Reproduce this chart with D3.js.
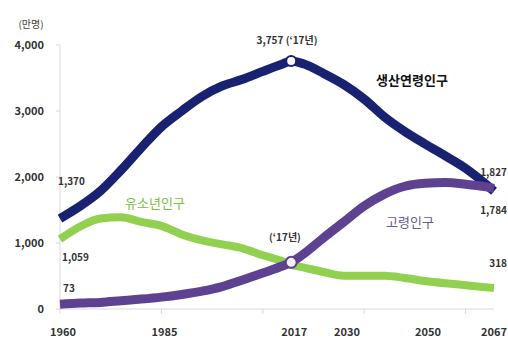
<!DOCTYPE html>
<html>
<head>
<meta charset="utf-8">
<script src="https://cdn.jsdelivr.net/npm/d3@7"></script>
<style>
  body { margin: 0; background: #fff; }
  text { font-family: "Noto Sans CJK KR", "Noto Sans", sans-serif; }
</style>
</head>
<body>
<script>
// years on the x axis (5-yr steps plus the 2017 peak and the 2067 end)
const years = [1960,1965,1970,1975,1980,1985,1990,1995,2000,2005,2010,2015,2017,2020,2025,2030,2035,2040,2045,2050,2055,2060,2065,2067];
// 생산연령인구 (15-64)
const workingAge = [1370,1560,1790,2100,2440,2760,3000,3220,3380,3480,3600,3715,3757,3715,3570,3400,3180,2910,2690,2500,2320,2130,1890,1784];
// 유소년인구 (0-14)
const youth = [1059,1250,1370,1390,1320,1260,1130,1040,980,920,815,720,672,630,560,505,505,505,470,425,390,360,330,318];
// 고령인구 (65+)
const elderly = [73,90,100,125,150,180,220,270,340,440,545,655,707,830,1080,1320,1560,1740,1860,1905,1915,1890,1850,1827];

const yTicks = [0,1000,2000,3000,4000];
const xTickMarks = [1960,1985,2010,2035,2060];
const xLabels = [1960,1985,2017,2030,2050,2067];

const width = 508, height = 349;

var svg = d3.select("body")
    .append("svg")
    .attr("width", width)
    .attr("height", height);

const x = d3.scaleLinear().domain([1960, 2067]).range([60, 494]);
const y = d3.scaleLinear().domain([0, 4000]).range([309, 45]);

//axis lines
svg.append("line")
    .attr("x1", x(1960)).attr("x2", x(1960))
    .attr("y1", y(4000)).attr("y2", y(0))
    .attr("stroke", "#d9d9d9");
svg.append("line")
    .attr("x1", x(1960)).attr("x2", x(2067))
    .attr("y1", y(0)).attr("y2", y(0))
    .attr("stroke", "#d9d9d9");

svg.selectAll(".ytick").data(yTicks).enter().append("line")
    .attr("x1", x(1960) - 4).attr("x2", x(1960))
    .attr("y1", d => y(d)).attr("y2", d => y(d))
    .attr("stroke", "#d9d9d9");

svg.selectAll(".ylab").data(yTicks).enter().append("text")
    .attr("x", 44)
    .attr("y", d => y(d) + 4)
    .attr("text-anchor", "end")
    .attr("font-size", 11)
    .attr("font-weight", "bold")
    .attr("fill", "#333")
    .text(d => d3.format(",")(d));

svg.selectAll(".xtick").data(xTickMarks).enter().append("line")
    .attr("x1", d => x(d)).attr("x2", d => x(d))
    .attr("y1", y(0)).attr("y2", y(0) + 5)
    .attr("stroke", "#d9d9d9");

// last label pushed back inside the frame
svg.selectAll(".xlab").data(xLabels).enter().append("text")
    .attr("x", d => d === 2067 ? 507 : x(d) + 3)
    .attr("y", 336)
    .attr("text-anchor", d => d === 2067 ? "end" : "middle")
    .attr("font-size", 11)
    .attr("font-weight", "bold")
    .attr("fill", "#333")
    .text(d => d);

svg.append("text")
    .attr("x", 31).attr("y", 28)
    .attr("text-anchor", "middle")
    .attr("font-size", 10)
    .attr("fill", "#444")
    .text("(만명)");

//lines
const line = d3.line()
    .x((d, i) => x(years[i]))
    .y(d => y(d))
    .curve(d3.curveMonotoneX);

const series = [
    { values: youth, color: "#92d050", w: 8 },
    { values: workingAge, color: "#182270", w: 9 },
    { values: elderly, color: "#5e4291", w: 9 }
];

svg.selectAll(".series").data(series).enter().append("path")
    .attr("d", d => line(d.values))
    .attr("fill", "none")
    .attr("stroke", d => d.color)
    .attr("stroke-width", d => d.w)
    .attr("stroke-linecap", "butt")
    .attr("stroke-linejoin", "round");

// 2017 markers
const i17 = years.indexOf(2017);
svg.append("circle")
    .attr("cx", x(2017)).attr("cy", y(workingAge[i17]))
    .attr("r", 5)
    .attr("fill", "#fff").attr("stroke", "#182270").attr("stroke-width", 2);
svg.append("circle")
    .attr("cx", x(2017)).attr("cy", y(elderly[i17]))
    .attr("r", 5.5)
    .attr("fill", "#f4effa").attr("stroke", "#5e4291").attr("stroke-width", 2);

//annotations
const notes = [
    { t: "3,757 (‘17년)", x: 287, y: 44, anchor: "middle", size: 10, weight: "bold", color: "#333" },
    { t: "(‘17년)", x: 285, y: 241, anchor: "middle", size: 10, weight: "bold", color: "#333" },
    { t: "1,370", x: 58, y: 185, anchor: "start", size: 10, weight: "bold", color: "#333" },
    { t: "1,059", x: 62, y: 261, anchor: "start", size: 10, weight: "bold", color: "#333" },
    { t: "73", x: 63, y: 292, anchor: "start", size: 10, weight: "bold", color: "#333" },
    { t: "1,827", x: 507, y: 176, anchor: "end", size: 10, weight: "bold", color: "#333" },
    { t: "1,784", x: 507, y: 214, anchor: "end", size: 10, weight: "bold", color: "#333" },
    { t: "318", x: 507, y: 267, anchor: "end", size: 10, weight: "bold", color: "#333" },
    { t: "생산연령인구", x: 412, y: 85, anchor: "middle", size: 13, weight: "bold", color: "#111" },
    { t: "유소년인구", x: 155, y: 208, anchor: "middle", size: 13, weight: "normal", color: "#7bbf3e" },
    { t: "고령인구", x: 410, y: 227, anchor: "middle", size: 13, weight: "normal", color: "#6a5a8c" }
];

svg.selectAll(".note").data(notes).enter().append("text")
    .attr("x", d => d.x).attr("y", d => d.y)
    .attr("text-anchor", d => d.anchor)
    .attr("font-size", d => d.size)
    .attr("font-weight", d => d.weight)
    .attr("fill", d => d.color)
    .text(d => d.t);
</script>
</body>
</html>
